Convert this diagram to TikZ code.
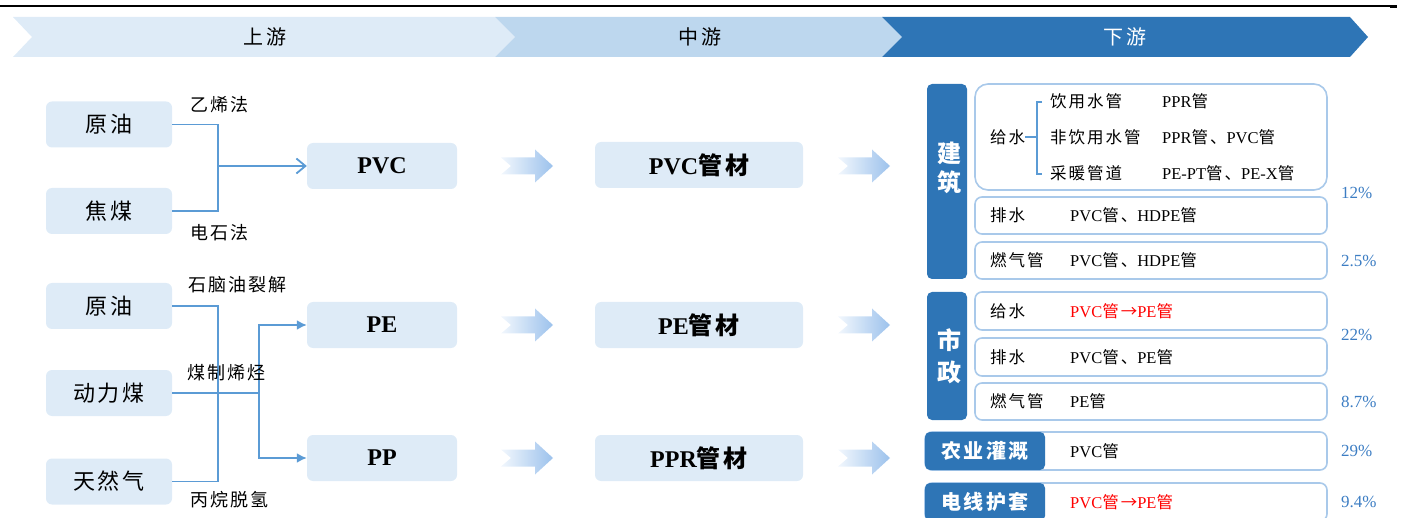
\documentclass[tikz,border=0pt]{standalone}
\usepackage{fontspec}
\setmainfont{Liberation Serif}
\newfontfamily\cjk{Noto Sans CJK SC}[LetterSpace=12]
\usetikzlibrary{arrows.meta}
\newcommand\zh[1]{{\cjk #1}}
\definecolor{lightfill}{HTML}{DEEBF7}
\definecolor{midfill}{HTML}{BDD7EE}
\definecolor{darkblue}{HTML}{2E75B6}
\definecolor{linec}{HTML}{5B9BD5}
\definecolor{borderc}{HTML}{A9C9EA}
\definecolor{pctc}{HTML}{3C7DC3}
\definecolor{chevl}{HTML}{F2F7FD}
\definecolor{chevr}{HTML}{9CC2EC}
\definecolor{redt}{HTML}{FF0000}
\begin{document}
\begin{tikzpicture}[x=1pt,y=-1pt,
  bann/.style={inner sep=0pt,font=\cjk\fontsize{20}{22}\selectfont},
  lbox/.style={fill=lightfill,rounded corners=6pt,minimum width=126pt,minimum height=46pt,inner sep=0pt,font=\cjk\fontsize{22}{24}\selectfont},
  pbox/.style={fill=lightfill,rounded corners=6pt,minimum width=150pt,minimum height=46pt,inner sep=0pt,font=\bfseries\fontsize{24}{26}\selectfont},
  mbox/.style={fill=lightfill,rounded corners=6pt,minimum width=208pt,minimum height=46pt,inner sep=0pt,font=\bfseries\fontsize{24}{26}\selectfont},
  mlbl/.style={anchor=west,inner sep=0pt,font=\cjk\fontsize{18}{20}\selectfont},
  conn/.style={draw=linec,line width=1.8pt},
  brk/.style={draw=linec,line width=1.2pt},
  obox/.style={draw=borderc,line width=1.6pt,fill=white,rounded corners=7pt,inner sep=0pt},
  dbox/.style={fill=darkblue,rounded corners=5pt,inner sep=0pt,text=white,font=\cjk\bfseries\fontsize{20}{22}\selectfont},
  dtxt/.style={inner sep=0pt,text=white,font=\cjk\bfseries\fontsize{24}{26}\selectfont},
  ztxt/.style={anchor=west,inner sep=0pt,font=\cjk\fontsize{16.5}{18}\selectfont},
  etxt/.style={anchor=west,inner sep=0pt,font=\fontsize{16.5}{18}\selectfont},
  pct/.style={anchor=west,inner sep=0pt,text=pctc,font=\fontsize{17}{19}\selectfont},
  chevarrow/.pic={\shade[left color=chevl,right color=chevr]
     (-26,-8.5) -- (8,-8.5) -- (8,-16.5) -- (26,0) -- (8,16.5) -- (8,8.5) -- (-26,8.5) -- (-16,0) -- cycle;}
]
\useasboundingbox (0,0) rectangle (1402,518);
\clip (0,0) rectangle (1402,518);

% top rule
\draw[line width=2pt] (0,6.5) -- (1390,6.5);
\draw[line width=3pt] (1390,6.5) -- (1397,6.5);

% banner
\path[fill=lightfill] (13,17) -- (495,17) -- (515,37) -- (495,57) -- (13,57) -- (32,37) -- cycle;
\path[fill=midfill] (495,17) -- (882,17) -- (902,37) -- (882,57) -- (495,57) -- (515,37) -- cycle;
\path[fill=darkblue] (882,17) -- (1350,17) -- (1368,37) -- (1350,57) -- (882,57) -- (902,37) -- cycle;
\node[bann] (sy) at (265,37) {上游};
\node[bann] (zy) at (700,37) {中游};
\node[bann,text=white] (xy) at (1125,37) {下游};

% upstream, PVC
\node[lbox] (yy1) at (109,124.5) {原油};
\node[lbox] (jm) at (109,211) {焦煤};
\node[pbox] (pvc) at (382,166) {PVC};
\coordinate (ja) at (218,166);
\draw[conn] (yy1.east) -| (ja) |- (jm.east);
\draw[conn,-{Straight Barb[length=9pt,width=15pt]}] (ja) -- (pvc.west);
\node[mlbl] (l1) at (190,105) {乙烯法};
\node[mlbl] (l2) at (190,233) {电石法};

% upstream, PE / PP
\node[lbox] (yy2) at (109,306) {原油};
\node[lbox] (dlm) at (109,393) {动力煤};
\node[lbox] (trq) at (109,481.5) {天然气};
\node[pbox] (pe) at (382,325) {PE};
\node[pbox] (pp) at (382,458) {PP};
\coordinate (jb) at (218,393);
\coordinate (jc) at (259,393);
\draw[conn] (yy2.east) -| (jb) |- (trq.east);
\draw[conn] (dlm.east) -- (jc);
\draw[conn,-{Latex[length=10pt,width=10pt]}] (jc) |- (pe.west);
\draw[conn,-{Latex[length=10pt,width=10pt]}] (jc) |- (pp.west);
\node[mlbl] (l3) at (188,285) {石脑油裂解};
\node[mlbl] (l4) at (187,373) {煤制烯烃};
\node[mlbl] (l5) at (190,500) {丙烷脱氢};

% midstream
\pic at (527,166) {chevarrow};
\pic at (527,325) {chevarrow};
\pic at (527,458) {chevarrow};
\pic at (864,166) {chevarrow};
\pic at (864,325) {chevarrow};
\pic at (864,458) {chevarrow};
\node[mbox] (m1) at (699,165) {PVC\zh{管材}};
\node[mbox] (m2) at (699,325) {PE\zh{管材}};
\node[mbox] (m3) at (699,458) {PPR\zh{管材}};

% downstream: building
\node[dbox,minimum width=40pt,minimum height=195pt] (jz) at (947,181.5) {};
\node[dtxt] (jz1) at (949,153) {建};
\node[dtxt] (jz2) at (949,182) {筑};
\node[obox,minimum width=352pt,minimum height=106pt,rounded corners=13pt] (gs1) at (1151,137) {};
\node[ztxt] (gs1t) at (990,137) {给水};
\coordinate (bk) at (1037,137);
\coordinate (bt) at (1042,102);
\coordinate (bb) at (1042,174);
\draw[brk] (gs1t.east) -- (bk);
\draw[brk] (bt) -- ++(-5,0) -- ++(0,72) -- (bb);
\node[ztxt] (a1) at (1050,101) {饮用水管};
\node[ztxt] (a2) at (1050,137) {非饮用水管};
\node[ztxt] (a3) at (1050,173) {采暖管道};
\node[etxt] (b1) at (1162,101) {PPR\zh{管}};
\node[etxt] (b2) at (1162,137) {PPR\zh{管、}PVC\zh{管}};
\node[etxt] (b3) at (1162,173) {PE-PT\zh{管、}PE-X\zh{管}};
\node[obox,minimum width=352pt,minimum height=37pt] (ps1) at (1151,215.5) {};
\node[ztxt] (ps1t) at (990,215.5) {排水};
\node[etxt] (ps1v) at (1070,215.5) {PVC\zh{管、}HDPE\zh{管}};
\node[obox,minimum width=352pt,minimum height=37pt] (rq1) at (1151,260.5) {};
\node[ztxt] (rq1t) at (990,260.5) {燃气管};
\node[etxt] (rq1v) at (1070,260.5) {PVC\zh{管、}HDPE\zh{管}};
\node[pct] (p1) at (1341,193) {12\%};
\node[pct] (p2) at (1341,260.5) {2.5\%};

% downstream: municipal
\node[dbox,minimum width=40pt,minimum height=128pt] (sz) at (947,356) {};
\node[dtxt] (sz1) at (949,340) {市};
\node[dtxt] (sz2) at (949,372) {政};
\node[obox,minimum width=352pt,minimum height=38pt] (gs2) at (1151,311) {};
\node[ztxt] (gs2t) at (990,311) {给水};
\node[etxt,text=redt] (gs2v) at (1070,311) {PVC\zh{管→}PE\zh{管}};
\node[obox,minimum width=352pt,minimum height=38pt] (ps2) at (1151,357) {};
\node[ztxt] (ps2t) at (990,357) {排水};
\node[etxt] (ps2v) at (1070,357) {PVC\zh{管、}PE\zh{管}};
\node[obox,minimum width=352pt,minimum height=37pt] (rq2) at (1151,401.5) {};
\node[ztxt] (rq2t) at (990,401.5) {燃气管};
\node[etxt] (rq2v) at (1070,401.5) {PE\zh{管}};
\node[pct] (p3) at (1341,335) {22\%};
\node[pct] (p4) at (1341,402) {8.7\%};

% downstream: agriculture, cable
\node[obox,minimum width=402pt,minimum height=38pt] (ny) at (1126,451) {};
\node[dbox,minimum width=120pt,minimum height=38pt] (nyl) at (985,451) {农业灌溉};
\node[etxt] (nyv) at (1070,451) {PVC\zh{管}};
\node[pct] (p5) at (1341,451) {29\%};
\node[obox,minimum width=402pt,minimum height=38pt] (dx) at (1126,502) {};
\node[dbox,minimum width=120pt,minimum height=38pt] (dxl) at (985,502) {电线护套};
\node[etxt,text=redt] (dxv) at (1070,502) {PVC\zh{管→}PE\zh{管}};
\node[pct] (p6) at (1341,502) {9.4\%};
\end{tikzpicture}
\end{document}
